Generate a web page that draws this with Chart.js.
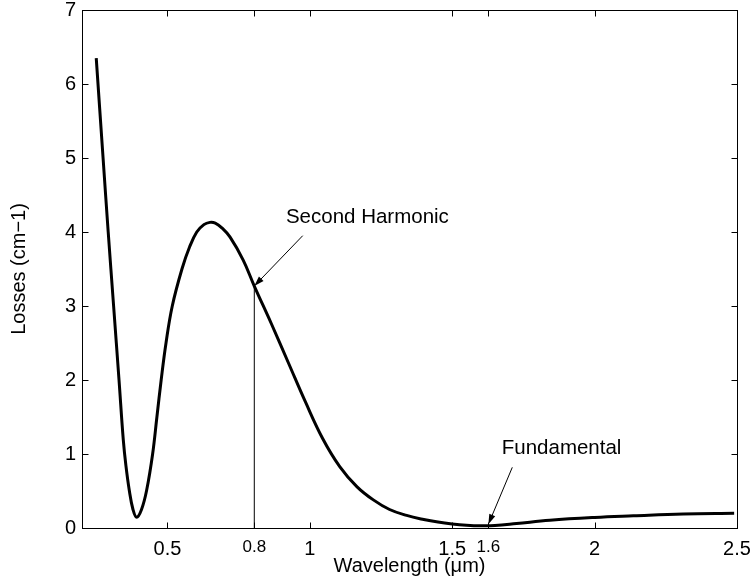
<!DOCTYPE html>
<html>
<head>
<meta charset="utf-8">
<script src="https://cdn.jsdelivr.net/npm/chart.js@4"></script>
<style>
html,body{margin:0;padding:0;background:#fff;}
#wrap{width:755px;height:579px;position:relative;}
</style>
</head>
<body>
<div id="wrap"><canvas id="c"></canvas></div>
<script>
// ---- data ----
const wavelength = [0.25,0.274,0.292,0.311,0.330,0.345,0.354,0.366,0.379,0.392,0.409,0.427,0.448,0.463,0.478,0.495,0.517,0.551,0.578,0.603,0.628,0.649,0.668,0.69,0.72,0.766,0.805,0.865,0.925,0.985,1.045,1.105,1.165,1.223,1.28,1.34,1.40,1.45,1.50,1.55,1.60,1.65,1.726,1.843,2.0,2.136,2.311,2.49];
const losses     = [6.35,5.0,4.0,3.0,2.0,1.19,0.85,0.51,0.25,0.145,0.25,0.51,1.0,1.5,2.0,2.5,3.0,3.5,3.8,4.0,4.1,4.13,4.12,4.06,3.93,3.62,3.27,2.76,2.23,1.70,1.21,0.83,0.56,0.38,0.25,0.17,0.115,0.08,0.055,0.038,0.03,0.033,0.06,0.105,0.143,0.165,0.19,0.20];
const markerX = [0.805, 0.805];
const markerY = [0, 3.27];
const xTickValues = [0.5, 0.805, 1, 1.5, 1.627, 2, 2.5];
const xTickLabels = ['0.5','0.8','1','1.5','1.6','2','2.5'];
const smallTickLabels = ['0.8','1.6'];
const yTickValues = [0,1,2,3,4,5,6,7];
const annotationText = ['Second Harmonic','Fundamental'];
const annotationTextX = [0.916, 1.674];
const annotationTextY = [4.12, 1.0];
const arrowFromX = [0.975, 1.711];
const arrowFromY = [3.95, 0.82];
const arrowToX = [0.805, 1.627];
const arrowToY = [3.27, 0.05];

const FONT = "'Liberation Sans', Arial, Helvetica, sans-serif";

function drawArrow(ctx, x0, y0, x1, y1) {
  const ang = Math.atan2(y1 - y0, x1 - x0);
  const L = 10, W = 3.2;
  const c = Math.cos(ang), s = Math.sin(ang);
  ctx.beginPath();
  ctx.moveTo(x0, y0);
  ctx.lineTo(x1 - L * c * 0.8, y1 - L * s * 0.8);
  ctx.stroke();
  ctx.beginPath();
  ctx.moveTo(x1, y1);
  ctx.lineTo(x1 - L * c + W * s, y1 - L * s - W * c);
  ctx.lineTo(x1 - L * c - W * s, y1 - L * s + W * c);
  ctx.closePath();
  ctx.fill();
}

const overlay = {
  id: 'overlay',
  afterDatasetsDraw(chart) {
    const {ctx, chartArea: a, scales: {x, y}} = chart;
    ctx.save();
    ctx.strokeStyle = '#000';
    ctx.fillStyle = '#000';
    ctx.lineWidth = 1;
    const L = Math.round(a.left) + 0.5, R = Math.round(a.right) + 0.5;
    const T = Math.round(a.top) + 0.5, B = Math.round(a.bottom) + 0.5;
    ctx.beginPath();
    xTickValues.forEach(v => {
      const px = Math.round(x.getPixelForValue(v)) + 0.5;
      ctx.moveTo(px, B); ctx.lineTo(px, B - 6);
      ctx.moveTo(px, T); ctx.lineTo(px, T + 6);
    });
    yTickValues.forEach(v => {
      const py = Math.round(y.getPixelForValue(v)) + 0.5;
      ctx.moveTo(L, py); ctx.lineTo(L + 6, py);
      ctx.moveTo(R, py); ctx.lineTo(R - 6, py);
    });
    ctx.stroke();
    ctx.strokeRect(L, T, R - L, B - T);
    // annotations
    ctx.font = '20.5px ' + FONT;
    ctx.textAlign = 'left';
    ctx.textBaseline = 'alphabetic';
    annotationText.forEach((t, i) => {
      ctx.fillText(t, x.getPixelForValue(annotationTextX[i]), y.getPixelForValue(annotationTextY[i]));
      drawArrow(ctx,
        x.getPixelForValue(arrowFromX[i]), y.getPixelForValue(arrowFromY[i]),
        x.getPixelForValue(arrowToX[i]), y.getPixelForValue(arrowToY[i]));
    });
    ctx.restore();
  }
};

new Chart(document.getElementById('c'), {
  type: 'line',
  data: {
    datasets: [
      {
        data: wavelength.map((w, i) => ({x: w, y: losses[i]})),
        borderColor: '#000', borderWidth: 3, pointRadius: 0,
        tension: 0.4, fill: false
      },
      {
        data: markerX.map((w, i) => ({x: w, y: markerY[i]})),
        borderColor: '#000', borderWidth: 1, pointRadius: 0, tension: 0, fill: false
      }
    ]
  },
  options: {
    responsive: true, maintainAspectRatio: false, animation: false,
    layout: {padding: {top: 10, right: 18, left: 0, bottom: 0}},
    plugins: {legend: {display: false}, tooltip: {enabled: false}},
    scales: {
      x: {
        type: 'linear', min: 0.2, max: 2.5,
        grid: {display: false, drawTicks: false}, border: {display: false},
        afterBuildTicks: s => { s.ticks = xTickValues.map(v => ({value: v})); },
        afterFit: s => { s.height = 51; s.paddingLeft = 0; s.paddingRight = 0; },
        ticks: {
          autoSkip: false, maxRotation: 0, minRotation: 0, padding: 9, color: '#000',
          callback: (v, i) => xTickLabels[i],
          font: c => ({family: FONT, size: smallTickLabels.includes(xTickLabels[c.index]) ? 17 : 20})
        },
        title: {display: true, text: 'Wavelength (μm)', color: '#000', font: {family: FONT, size: 20}, padding: {top: 0, bottom: 1}}
      },
      y: {
        type: 'linear', min: 0, max: 7,
        grid: {display: false, drawTicks: false}, border: {display: false},
        afterBuildTicks: s => { s.ticks = yTickValues.map(v => ({value: v})); },
        afterFit: s => { s.width = 82; s.paddingTop = 0; s.paddingBottom = 0; },
        ticks: {padding: 6, color: '#000', font: {family: FONT, size: 20}},
        title: {display: true, text: 'Losses (cm−1)', color: '#000', font: {family: FONT, size: 20}, padding: {top: 7, bottom: 7}}
      }
    }
  },
  plugins: [overlay]
});
</script>
</body>
</html>
